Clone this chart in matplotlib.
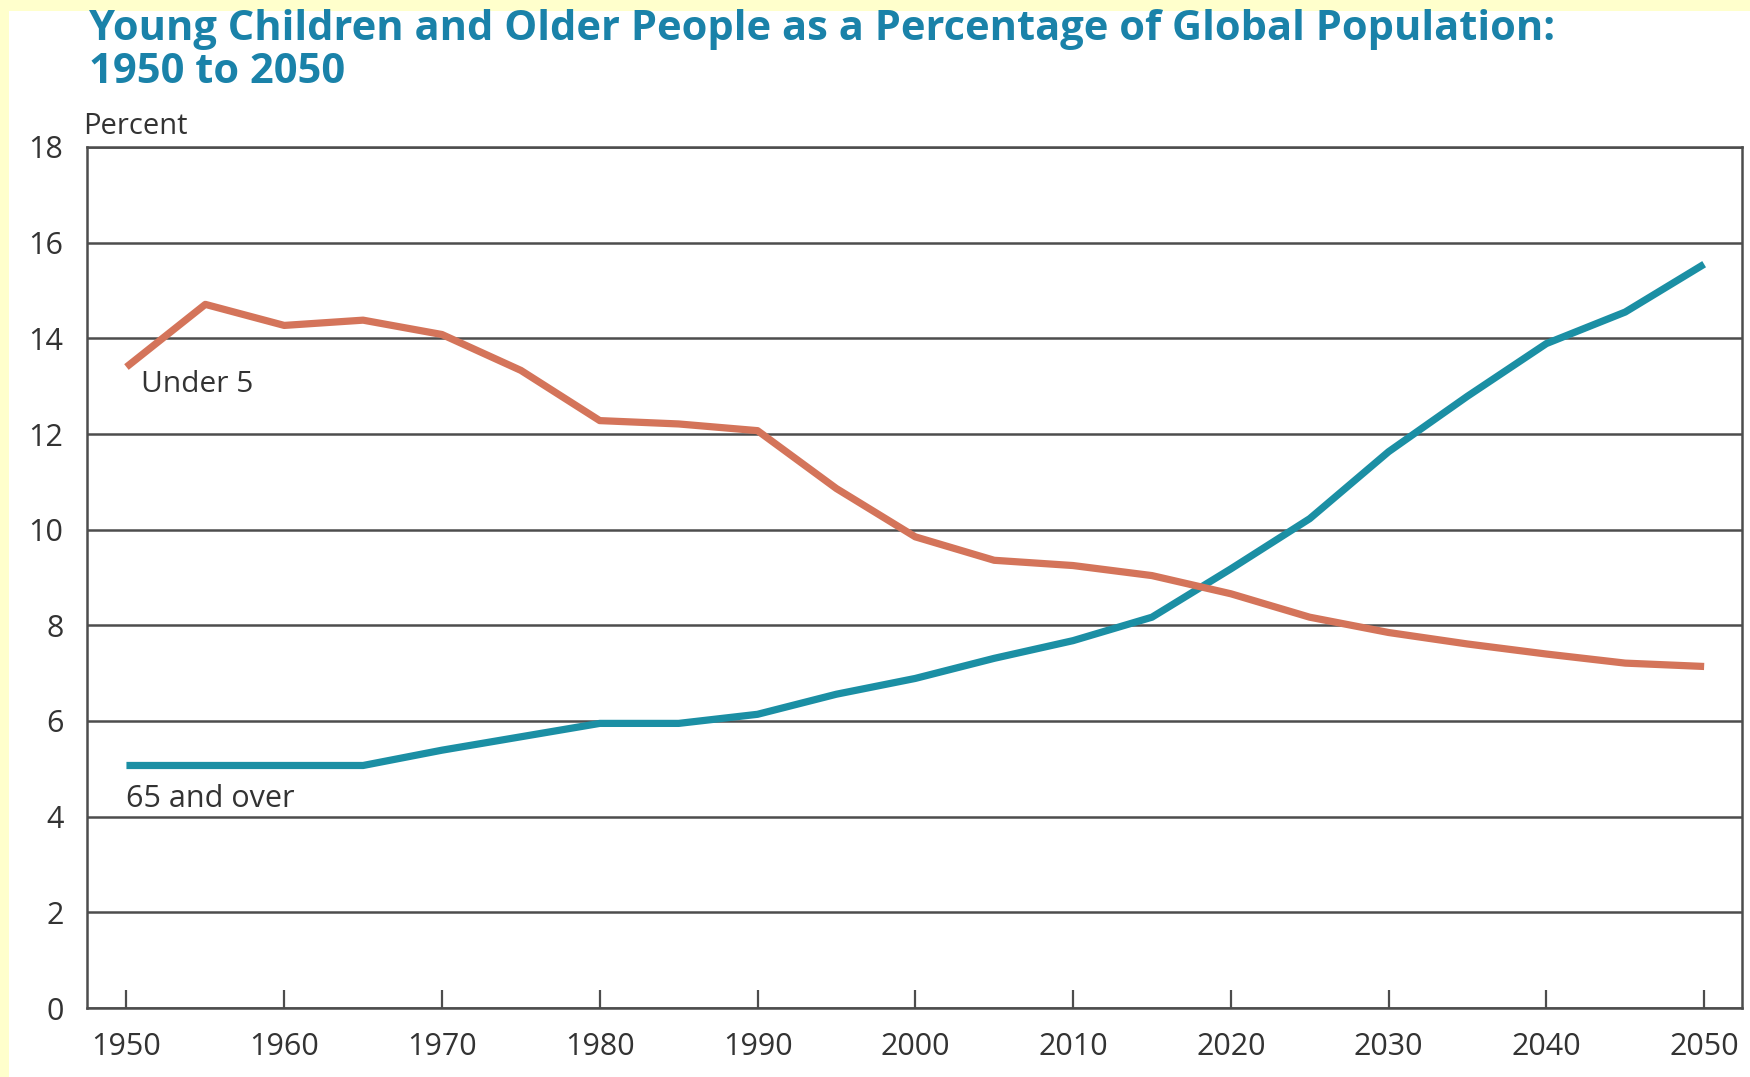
import matplotlib
matplotlib.use("Agg")
import matplotlib.pyplot as plt
from matplotlib.patches import Rectangle

# values, every 5 years
years = list(range(1950, 2051, 5))
under5 = [13.4, 14.71, 14.27, 14.38, 14.08, 13.33, 12.28, 12.21, 12.07, 10.86,
          9.85, 9.36, 9.25, 9.04, 8.66, 8.17, 7.85, 7.61, 7.40, 7.21, 7.14]
over65 = [5.07, 5.07, 5.07, 5.07, 5.39, 5.67, 5.95, 5.95, 6.14, 6.56,
          6.89, 7.31, 7.68, 8.17, 9.18, 10.23, 11.63, 12.79, 13.89, 14.55, 15.55]
xticks = list(range(1950, 2051, 10))
yticks = list(range(0, 19, 2))

TITLE = "Young Children and Older People as a Percentage of Global Population:\n1950 to 2050"
TEAL = "#1b8fa4"
ORANGE = "#d4745a"
GRID = "#4d4d4d"
TEXT = "#333333"

plt.rcParams['font.family'] = ['Open Sans', 'DejaVu Sans']

fig = plt.figure(figsize=(17.5, 10.77), dpi=100)
fig.patch.set_facecolor("white")

# pale yellow strip along the top and left edge
fig.patches.append(Rectangle((0, 1 - 11 / 1077), 1, 11 / 1077, transform=fig.transFigure,
                             facecolor="#ffffcc", edgecolor="none", zorder=0))
fig.patches.append(Rectangle((0, 0), 9 / 1750, 1, transform=fig.transFigure,
                             facecolor="#ffffcc", edgecolor="none", zorder=0))

ax = fig.add_axes([87 / 1750, 1 - 1008 / 1077, (1742 - 87) / 1750, (1008 - 147) / 1077])

ax.plot(years, over65, color=TEAL, lw=5.2, solid_capstyle="butt", zorder=3)
ax.plot(years, under5, color=ORANGE, lw=5.2, solid_capstyle="butt", zorder=4)

ax.set_xlim(1947.5, 2052.4)
ax.set_ylim(0, 18)
ax.set_xticks(xticks)
ax.set_yticks(yticks)
ax.tick_params(axis="x", direction="in", length=13, width=1.6, color=GRID,
               pad=17, labelsize=22, labelcolor=TEXT)
ax.tick_params(axis="y", length=0, pad=17, labelsize=22, labelcolor=TEXT)

ax.grid(axis="y", color=GRID, lw=1.8)
ax.set_axisbelow(True)
for s in ax.spines.values():
    s.set_color(GRID)
    s.set_linewidth(1.8)

ax.text(1950.95, 13.03, "Under 5", fontsize=21.5, color=TEXT, va="center", ha="left")
ax.text(1950.0, 4.37, "65 and over", fontsize=22, color=TEXT, va="center", ha="left")

fig.text(83 / 1750, 1 - 127 / 1077, "Percent", fontsize=21, color=TEXT, va="center", ha="left")
fig.text(89 / 1750, 1 - 9 / 1077, TITLE, fontsize=30, fontweight="bold", color="#1a82a9",
         va="top", ha="left", linespacing=1.05)

fig.savefig("out.png", dpi=100, facecolor=fig.get_facecolor())
